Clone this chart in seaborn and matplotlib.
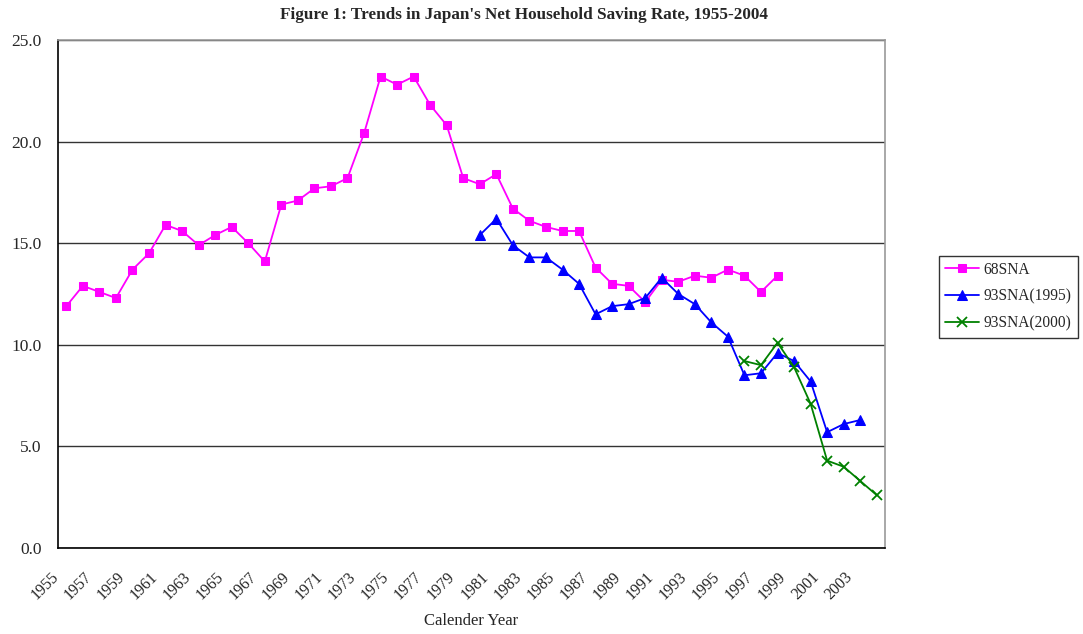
import numpy as np
import pandas as pd
import matplotlib
matplotlib.use("Agg")
import matplotlib.pyplot as plt
import matplotlib.transforms as mtransforms
import seaborn as sns

# series values (net household saving rate, %)
years_68 = list(range(1955, 1999))
sna68 = [11.9, 12.9, 12.6, 12.3, 13.7, 14.5, 15.9, 15.6, 14.9, 15.4,
         15.8, 15.0, 14.1, 16.9, 17.1, 17.7, 17.8, 18.2, 20.4, 23.2,
         22.8, 23.2, 21.8, 20.8, 18.2, 17.9, 18.4, 16.7, 16.1, 15.8,
         15.6, 15.6, 13.8, 13.0, 12.9, 12.1, 13.2, 13.1, 13.4, 13.3,
         13.7, 13.4, 12.6, 13.4]

years_95 = list(range(1980, 2004))
sna93_1995 = [15.4, 16.2, 14.9, 14.3, 14.3, 13.7, 13.0, 11.5, 11.9, 12.0,
              12.3, 13.3, 12.5, 12.0, 11.1, 10.4, 8.5, 8.6, 9.6, 9.2,
              8.2, 5.7, 6.1, 6.3]

years_00 = list(range(1996, 2005))
sna93_2000 = [9.2, 9.0, 10.1, 8.9, 7.1, 4.3, 4.0, 3.3, 2.6]

series_names = ["68SNA", "93SNA(1995)", "93SNA(2000)"]
tick_years = list(range(1955, 2004, 2))
y_ticks = [0, 5, 10, 15, 20, 25]

sns.set_style("white")
plt.rcParams["font.family"] = ["Liberation Serif", "DejaVu Serif"]

fig = plt.figure(figsize=(10.83, 6.34), dpi=100)
ax = fig.add_axes([0.0536, 0.1356, 0.7636, 0.8014])

sns.lineplot(x=years_68, y=sna68, ax=ax, color="#FF00FF", marker="s",
             markersize=6, markeredgecolor="#FF00FF", lw=1.3, label=series_names[0])
sns.lineplot(x=years_95, y=sna93_1995, ax=ax, color="#0000FF", marker="^",
             markersize=7, markeredgecolor="#0000FF", lw=1.3, label=series_names[1])
sns.lineplot(x=years_00, y=sna93_2000, ax=ax, color="#008000", marker="x",
             markersize=7, markeredgecolor="#008000", markeredgewidth=1.3,
             lw=1.3, label=series_names[2])

ax.set_xlim(1954.5, 2004.5)
ax.set_ylim(0, 25)
ax.set_yticks(y_ticks)
ax.set_yticklabels([f"{v:.1f}" for v in y_ticks], fontsize=12.5)
ax.yaxis.grid(True, color="#333333", lw=1)
ax.set_axisbelow(True)
ax.tick_params(axis="y", direction="in", length=4, width=1, color="black", pad=12)

ax.set_xticks(tick_years)
ax.set_xticklabels([str(y) for y in tick_years], rotation=45, ha="right",
                   rotation_mode="anchor", fontsize=11.5)
ax.set_xticks(np.arange(1954.5, 2005, 1), minor=True)
ax.tick_params(axis="x", which="major", length=0, pad=15)
ax.tick_params(axis="x", which="minor", direction="in", length=5, width=1, color="black")
shift = mtransforms.ScaledTranslation(-16 / 100, 0, fig.dpi_scale_trans)
for lab in ax.get_xticklabels():
    lab.set_transform(lab.get_transform() + shift)

for side in ["left", "bottom"]:
    ax.spines[side].set_color("black")
    ax.spines[side].set_linewidth(1.2)
for side in ["top", "right"]:
    ax.spines[side].set_color("#999999")
    ax.spines[side].set_linewidth(1.2)

ax.set_xlabel("Calender Year", fontsize=12, labelpad=7)
ax.set_ylabel("")
fig.text(0.484, 0.977, "Figure 1: Trends in Japan's Net Household Saving Rate, 1955-2004",
         fontsize=12.3, fontweight="bold", ha="center", va="center")

leg = ax.legend(loc="center", bbox_to_anchor=(0.931, 0.532),
                bbox_transform=fig.transFigure, fontsize=11.2, frameon=True,
                fancybox=False, edgecolor="black", handlelength=2.2,
                handletextpad=0.3, borderpad=0.4, labelspacing=0.7)
leg.get_frame().set_linewidth(1.0)

fig.savefig("out.png", dpi=100)
